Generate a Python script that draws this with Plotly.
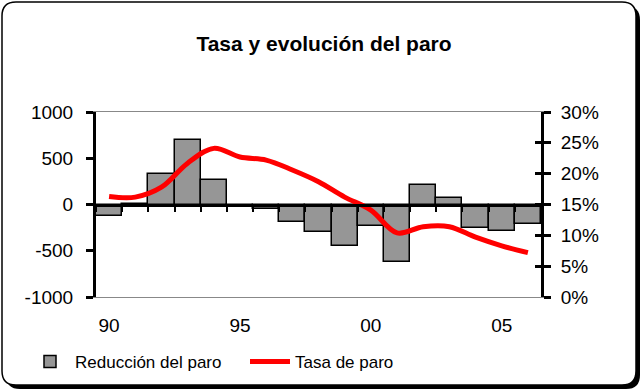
import plotly.graph_objects as go

years = list(range(1990, 2007))
reduccion = [-120, 10, 330, 700, 260, -20, -50, -190, -300, -450, -235, -625, 210, 65, -255, -285, -210]
tasa = [16.3, 16.2, 17.8, 21.7, 24.1, 22.7, 22.2, 20.6, 18.7, 16.2, 14.1, 10.4, 11.4, 11.4, 9.7, 8.3, 7.2]
tasa = [v / 100 for v in tasa]
xtick_vals = [1990, 1995, 2000, 2005]
xtick_text = ["90", "95", "00", "05"]
left_ticks = [-1000, -500, 0, 500, 1000]
left_text = ["-1000", "-500", "0", "500", "1000"]
boundaries = [y - 0.5 for y in years] + [years[-1] + 0.5]

FONT = "Liberation Sans, Arial, sans-serif"
L, R, T, B = 96, 103, 112, 93
W, H = 644, 390
pw, ph = W - L - R, H - T - B

def px(x):
    return (x - L) / pw

def py(y):
    return (H - B - y) / ph

def rrect(x0, y0, x1, y1, r):
    return (f"M {px(x0 + r)} {py(y0)} L {px(x1 - r)} {py(y0)} Q {px(x1)} {py(y0)} {px(x1)} {py(y0 + r)} "
            f"L {px(x1)} {py(y1 - r)} Q {px(x1)} {py(y1)} {px(x1 - r)} {py(y1)} "
            f"L {px(x0 + r)} {py(y1)} Q {px(x0)} {py(y1)} {px(x0)} {py(y1 - r)} "
            f"L {px(x0)} {py(y0 + r)} Q {px(x0)} {py(y0)} {px(x0 + r)} {py(y0)} Z")

fig = go.Figure()
fig.add_trace(go.Bar(x=years, y=reduccion, name="Reducción del paro",
                     marker=dict(color="#969696", line=dict(color="black", width=1.5)),
                     yaxis="y", legend="legend"))
fig.add_trace(go.Scatter(x=years, y=tasa, name="Tasa de paro", mode="lines",
                         line=dict(color="#ff0000", width=5, shape="spline", smoothing=1.0),
                         yaxis="y2", legend="legend2"))

leg_common = dict(orientation="h", xanchor="left", yanchor="middle", y=py(362),
                  font=dict(size=17), bgcolor="rgba(0,0,0,0)", itemwidth=40)

fig.update_layout(
    width=W, height=H, margin=dict(l=L, r=R, t=T, b=B, autoexpand=False),
    paper_bgcolor="white", plot_bgcolor="white",
    font=dict(family=FONT, size=19, color="black"),
    bargap=0,
    showlegend=True,
    title=dict(text="<b>Tasa y evolución del paro</b>", x=324 / W, xanchor="center",
               y=1 - 44 / H, yanchor="middle", font=dict(size=21, family=FONT)),
    xaxis=dict(range=[1989.5, 2006.5], tickvals=xtick_vals, ticktext=xtick_text,
               showline=True, linecolor="#888888", linewidth=1, mirror=True,
               ticks="outside", ticklen=11, tickcolor="rgba(0,0,0,0)",
               showgrid=False, zeroline=False, tickfont=dict(size=19)),
    xaxis2=dict(range=[1989.5, 2006.5], overlaying="x", anchor="free", position=0.5,
                showline=True, linecolor="black", linewidth=3,
                ticks="outside", ticklen=5, tickwidth=2, tickcolor="black",
                tickvals=boundaries, showticklabels=False, showgrid=False, zeroline=False),
    yaxis=dict(range=[-1000, 1000], tickvals=left_ticks, ticktext=left_text,
               showgrid=False, zeroline=False,
               showline=True, linecolor="black", linewidth=3,
               ticks="outside", ticklen=7, tickwidth=3, tickcolor="black", ticklabelstandoff=9),
    yaxis2=dict(range=[0, 0.30], overlaying="y", side="right", tickformat=".0%", dtick=0.05,
                showgrid=False, zeroline=False, showline=True, linecolor="black", linewidth=3,
                ticks="outside", ticklen=7, tickwidth=3, tickcolor="black", ticklabelstandoff=6),
    yaxis3=dict(range=[0, 0.30], overlaying="y", side="right", anchor="x", dtick=0.05,
                showgrid=False, zeroline=False, showline=False, showticklabels=False,
                ticks="inside", ticklen=6, tickwidth=3, tickcolor="black"),
    legend=dict(x=px(25), **leg_common),
    legend2=dict(x=px(245), **leg_common),
    shapes=[
        dict(type="path", xref="paper", yref="paper", path=rrect(6, 6, 640, 389, 14),
             fillcolor="black", line=dict(width=0), layer="below"),
        dict(type="path", xref="paper", yref="paper", path=rrect(2, 2, 636, 385, 14),
             fillcolor="white", line=dict(color="black", width=1.5), layer="below"),
    ],
)
fig.add_trace(go.Scatter(x=[1989.5], y=[None], xaxis="x2", yaxis="y3", showlegend=False, hoverinfo="skip"))

fig.write_html("out.html")
